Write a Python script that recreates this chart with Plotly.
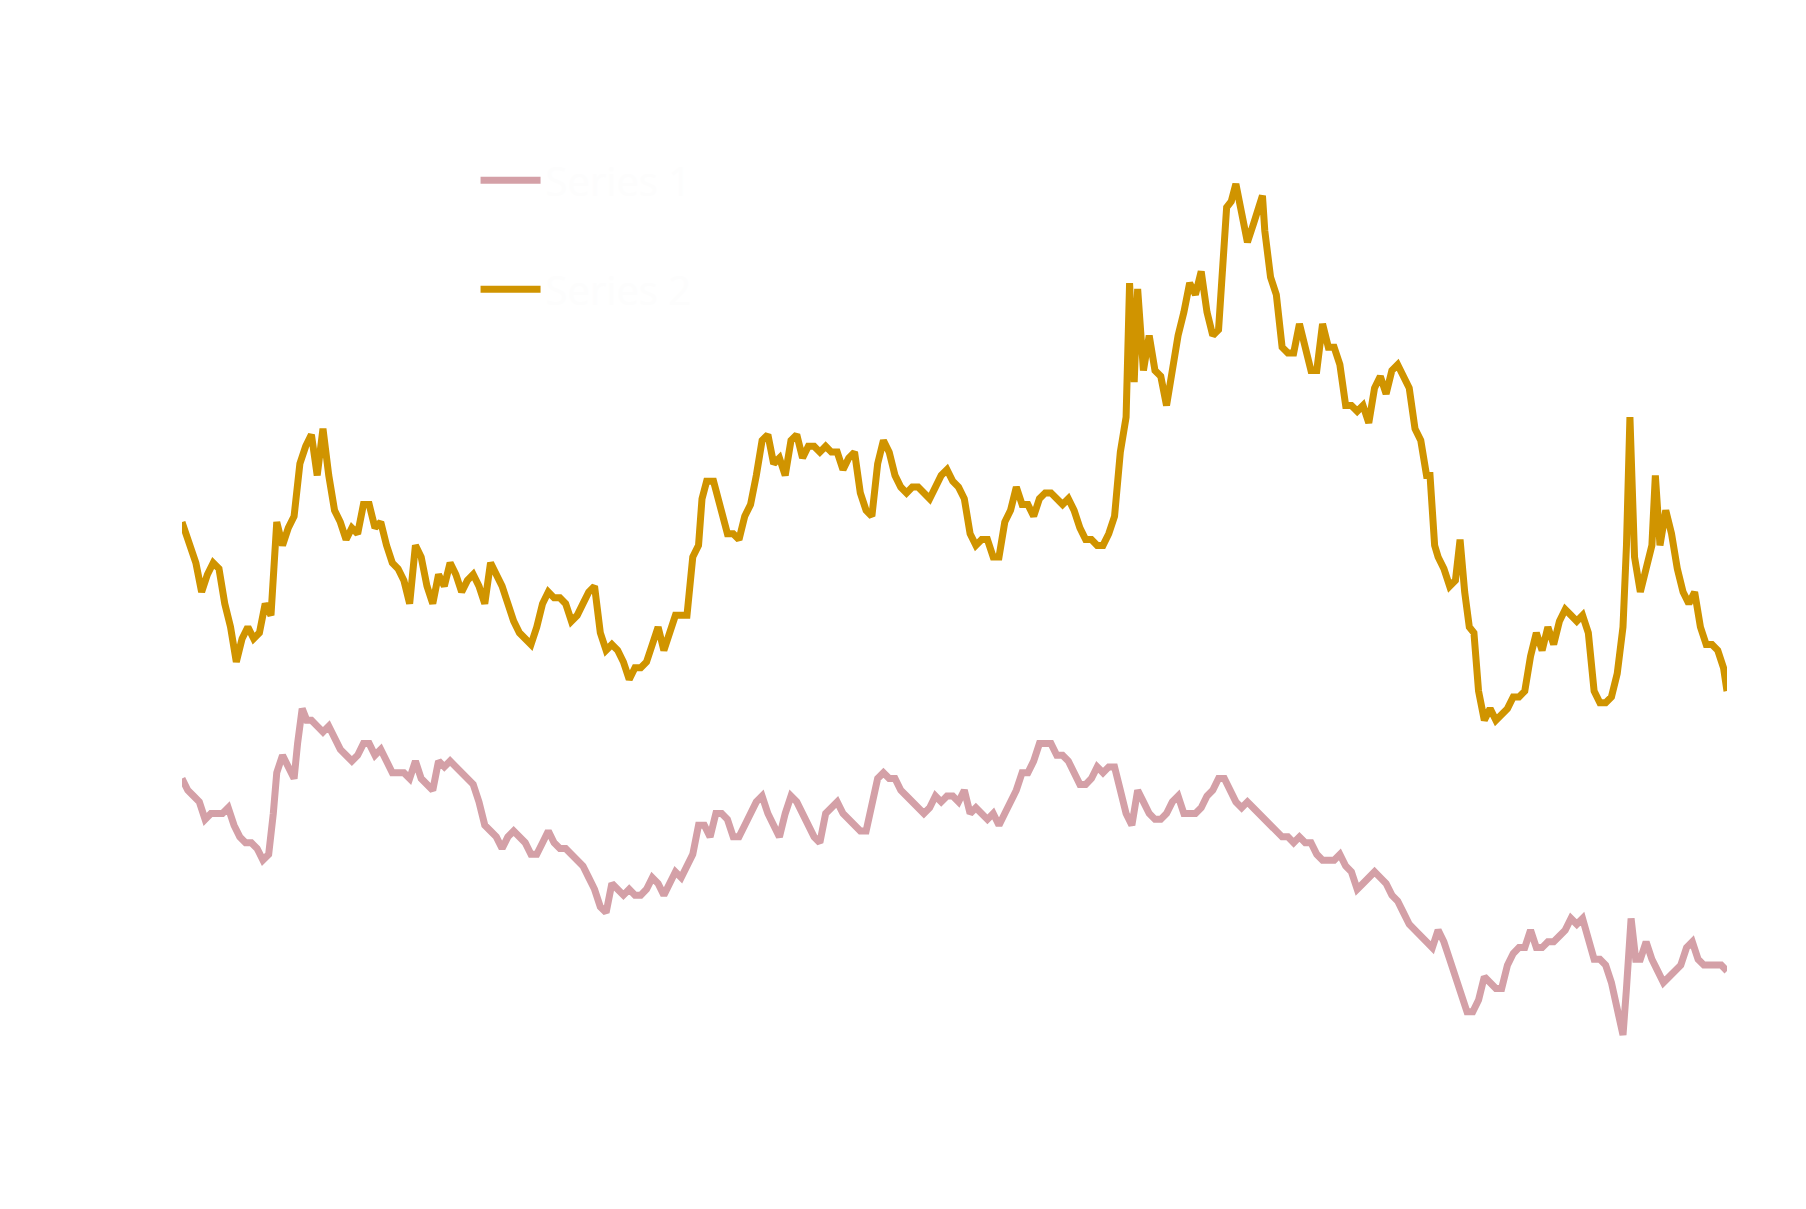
import plotly.graph_objects as go

gold_x = [158,165,170,175,180,185,190,195,200,205,210,215,220,225,230,235,240,245,250,255,260,265,270,275,280,285,290,295,300,305,310,315,320,325,330,335,340,345,350,355,360,365,370,375,380,385,390,395,400,405,410,415,420,425,430,435,440,445,450,455,460,465,470,475,480,485,490,495,500,505,510,515,520,525,530,535,540,545,550,555,560,565,570,575,580,585,590,595,600,605,608,612,618,625,630,635,640,645,650,655,660,665,670,675,680,685,690,695,700,705,710,715,720,725,730,735,740,745,750,755,760,765,770,775,780,785,790,795,800,805,810,815,820,825,830,835,840,845,850,855,860,865,870,875,880,885,890,895,900,905,910,915,920,925,930,935,940,945,950,955,960,965,970,975,978,982,985,990,995,1000,1005,1010,1015,1020,1025,1030,1035,1040,1045,1050,1055,1058,1062,1066,1070,1075,1080,1085,1090,1093,1095,1100,1105,1110,1115,1120,1125,1130,1135,1140,1145,1150,1155,1160,1165,1170,1175,1180,1185,1190,1195,1200,1205,1210,1215,1220,1225,1230,1235,1238,1242,1245,1250,1255,1260,1264,1268,1272,1276,1280,1285,1290,1295,1300,1305,1310,1315,1320,1325,1330,1335,1340,1345,1350,1355,1360,1365,1370,1375,1380,1385,1390,1395,1400,1405,1408,1411,1415,1420,1425,1430,1433,1437,1442,1447,1452,1457,1462,1467,1472,1477,1482,1487,1492,1495]
gold_px = [450,470,485,510,495,485,490,520,540,570,550,540,550,545,520,530,450,470,455,445,400,385,375,410,370,410,440,450,465,455,460,435,435,455,450,470,485,490,500,520,470,480,505,520,495,505,485,495,510,500,495,505,520,485,495,505,520,535,545,550,555,540,520,510,515,515,520,535,530,520,510,505,545,560,555,560,570,585,575,575,570,555,540,560,545,530,530,530,480,470,430,415,415,440,460,460,465,445,435,410,380,375,400,395,410,380,375,395,385,385,390,385,390,390,405,395,390,425,440,445,400,380,390,410,420,425,420,420,425,430,420,410,405,415,420,430,460,470,465,465,480,480,450,440,420,435,435,445,430,425,425,430,435,430,440,455,465,465,470,470,460,445,390,360,245,330,250,320,290,320,325,350,320,290,270,245,255,235,270,290,285,240,180,175,160,185,210,195,180,170,200,240,255,300,305,305,280,300,320,320,280,300,300,315,350,350,355,350,365,335,325,340,320,315,325,335,370,380,410,410,470,480,490,505,500,465,510,540,545,595,620,610,620,615,610,600,600,595,565,545,560,540,555,535,525,530,535,530,545,595,605,605,600,580,540,470,360,480,510,490,470,410,470,440,460,490,510,520,510,540,555,555,560,575,595]
pink_x = [158,163,168,173,178,183,188,193,198,203,208,213,218,223,228,233,237,240,245,250,255,258,262,266,270,275,280,285,290,295,300,305,310,315,320,325,330,335,340,345,350,355,360,365,370,375,380,385,390,395,400,405,410,415,420,425,430,435,440,445,450,455,460,465,470,475,480,485,490,495,500,505,510,515,520,525,530,535,540,545,550,555,560,565,570,575,580,585,590,595,600,605,610,615,620,625,630,635,640,645,650,655,660,665,670,675,680,685,690,695,700,705,710,715,720,725,730,735,740,745,750,755,760,765,770,775,780,785,790,795,800,805,810,815,820,825,830,835,840,845,850,855,860,865,870,875,880,885,890,895,900,905,910,915,920,925,930,935,940,945,950,955,960,965,970,975,980,985,990,995,1000,1005,1010,1015,1020,1025,1030,1035,1040,1045,1050,1055,1060,1065,1070,1075,1080,1085,1090,1095,1100,1105,1110,1115,1120,1125,1130,1135,1140,1145,1150,1155,1160,1165,1170,1175,1180,1185,1190,1195,1200,1205,1210,1215,1220,1225,1230,1235,1240,1245,1250,1255,1260,1265,1270,1275,1280,1285,1290,1295,1300,1305,1310,1315,1320,1325,1330,1335,1340,1345,1350,1355,1360,1365,1370,1375,1380,1385,1390,1395,1400,1405,1408,1412,1416,1420,1425,1430,1435,1440,1445,1450,1455,1460,1465,1470,1475,1480,1485,1490,1495]
pink_px = [670,680,685,690,705,700,700,700,695,710,720,725,725,730,740,735,700,665,650,660,670,640,610,620,620,625,630,625,635,645,650,655,650,640,640,650,645,655,665,665,665,670,655,670,675,680,655,660,655,660,665,670,675,690,710,715,720,730,720,715,720,725,735,735,725,715,725,730,730,735,740,745,755,765,780,785,760,765,770,765,770,770,765,755,760,770,760,750,755,745,735,710,710,720,700,700,705,720,720,710,700,690,685,700,710,720,700,685,690,700,710,720,725,700,695,690,700,705,710,715,715,695,670,665,670,670,680,685,690,695,700,695,685,690,685,685,690,680,700,695,700,705,700,710,700,690,680,665,665,655,640,640,640,650,650,655,665,675,675,670,660,665,660,660,680,700,710,680,690,700,705,705,700,690,685,700,700,700,695,685,680,670,670,680,690,695,690,695,700,705,710,715,720,720,725,720,725,725,735,740,740,740,735,745,750,765,760,755,750,755,760,770,775,785,795,800,805,810,815,800,810,825,840,855,870,870,860,840,845,850,850,830,820,815,815,800,815,815,810,810,805,800,790,795,790,810,825,825,830,845,865,890,850,790,825,825,810,825,835,845,840,835,830,815,810,825,830,830,830,830,835]

gold_v = [1000 - p for p in gold_px]
pink_v = [1000 - p for p in pink_px]

fig = go.Figure()
fig.add_trace(go.Scatter(x=pink_x, y=pink_v, mode="lines", name="Series 1", legendgroup="a",
                         line=dict(color="#d4a0a7", width=7)))
fig.add_trace(go.Scatter(x=gold_x, y=gold_v, mode="lines", name="Series 2", legendgroup="b",
                         line=dict(color="#d09400", width=7)))
fig.update_layout(
    width=1806, height=1209, paper_bgcolor="white", plot_bgcolor="white",
    margin=dict(l=174, r=87, t=106, b=112),
    xaxis=dict(range=[158, 1495], visible=False),
    yaxis=dict(range=[50, 900], visible=False),
    showlegend=True,
    legend=dict(x=0.19, y=0.966, xanchor="left", yanchor="top",
                font=dict(size=40, color="#fdfdfd"), tracegroupgap=54,
                itemwidth=60, bgcolor="rgba(0,0,0,0)"),
)
fig.write_html("out.html")
